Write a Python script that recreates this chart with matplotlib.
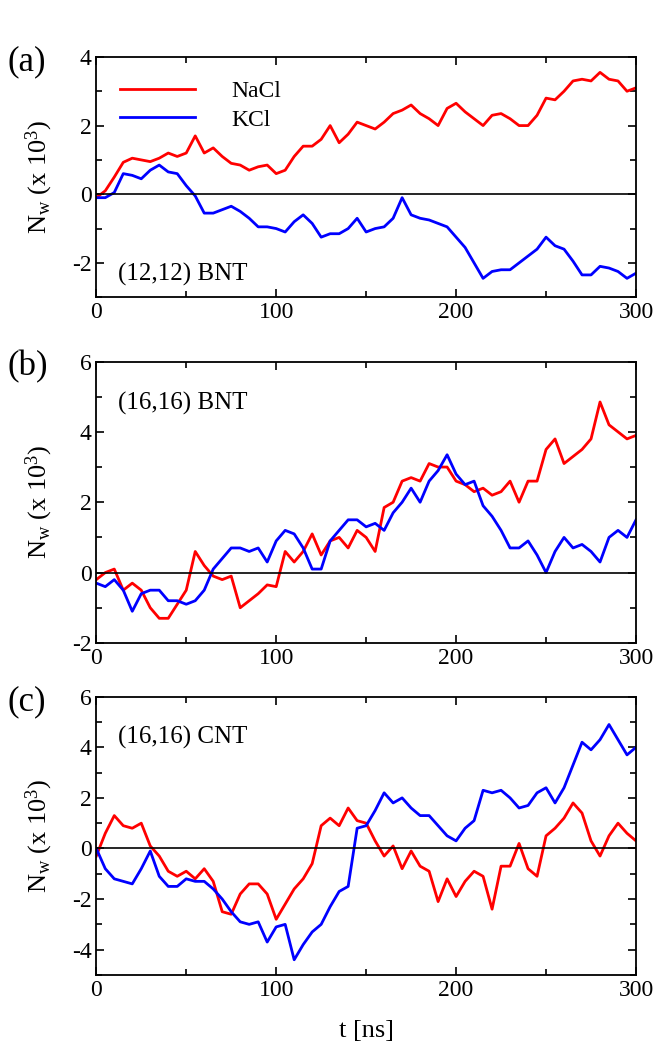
import numpy as np
import matplotlib
matplotlib.use('Agg')
import matplotlib.pyplot as plt
from matplotlib.ticker import MultipleLocator

plt.rcParams['font.family'] = ['Liberation Serif', 'DejaVu Serif']
plt.rcParams['mathtext.fontset'] = 'custom'
plt.rcParams['mathtext.rm'] = 'Liberation Serif'
plt.rcParams['mathtext.it'] = 'Liberation Serif:italic'
plt.rcParams['axes.unicode_minus'] = False

# time axis (ns), sampled every 5 ns
t = np.arange(0, 301, 5)

# (a) (12,12) BNT
nacl_a = [-0.1, 0.1, 0.5, 0.93, 1.05, 1.0, 0.95, 1.05, 1.2, 1.1, 1.2, 1.7, 1.2,
          1.35, 1.1, 0.9, 0.85, 0.7, 0.8, 0.85, 0.6, 0.7, 1.1, 1.4, 1.4, 1.6,
          2.0, 1.5, 1.75, 2.1, 2.0, 1.9, 2.1, 2.35, 2.45, 2.6, 2.35, 2.2, 2.0,
          2.5, 2.65, 2.4, 2.2, 2.0, 2.3, 2.35, 2.2, 2.0, 2.0, 2.3, 2.8, 2.75,
          3.0, 3.3, 3.35, 3.3, 3.55, 3.35, 3.3, 3.0, 3.1]
kcl_a = [-0.1, -0.1, 0.05, 0.6, 0.55, 0.45, 0.7, 0.85, 0.65, 0.6, 0.25, -0.05,
         -0.55, -0.55, -0.45, -0.35, -0.5, -0.7, -0.95, -0.95, -1.0, -1.1, -0.8,
         -0.6, -0.85, -1.25, -1.15, -1.15, -1.0, -0.7, -1.1, -1.0, -0.95, -0.7,
         -0.1, -0.6, -0.7, -0.75, -0.85, -0.95, -1.25, -1.55, -2.0, -2.45,
         -2.25, -2.2, -2.2, -2.0, -1.8, -1.6, -1.25, -1.5, -1.6, -1.95, -2.35,
         -2.35, -2.1, -2.15, -2.25, -2.45, -2.3]

# (b) (16,16) BNT
nacl_b = [-0.2, 0.0, 0.1, -0.5, -0.3, -0.5, -1.0, -1.3, -1.3, -0.9, -0.5, 0.6,
          0.2, -0.1, -0.2, -0.1, -1.0, -0.8, -0.6, -0.35, -0.4, 0.6, 0.3, 0.6,
          1.1, 0.5, 0.9, 1.0, 0.7, 1.2, 1.0, 0.6, 1.85, 2.0, 2.6, 2.7, 2.6,
          3.1, 3.0, 3.0, 2.6, 2.5, 2.3, 2.4, 2.2, 2.3, 2.6, 2.0, 2.6, 2.6, 3.5,
          3.8, 3.1, 3.3, 3.5, 3.8, 4.85, 4.2, 4.0, 3.8, 3.9]
kcl_b = [-0.3, -0.4, -0.2, -0.5, -1.1, -0.6, -0.5, -0.5, -0.8, -0.8, -0.9,
         -0.8, -0.5, 0.1, 0.4, 0.7, 0.7, 0.6, 0.7, 0.3, 0.9, 1.2, 1.1, 0.7,
         0.1, 0.1, 0.9, 1.2, 1.5, 1.5, 1.3, 1.4, 1.2, 1.7, 2.0, 2.4, 2.0, 2.6,
         2.9, 3.35, 2.8, 2.5, 2.6, 1.9, 1.6, 1.2, 0.7, 0.7, 0.9, 0.5, 0.0, 0.6,
         1.0, 0.7, 0.8, 0.6, 0.3, 1.0, 1.2, 1.0, 1.5]

# (c) (16,16) CNT
nacl_c = [-0.3, 0.6, 1.3, 0.9, 0.8, 1.0, 0.1, -0.3, -0.9, -1.1, -0.9, -1.2,
          -0.8, -1.3, -2.5, -2.6, -1.8, -1.4, -1.4, -1.8, -2.8, -2.2, -1.6,
          -1.2, -0.6, 0.9, 1.2, 0.9, 1.6, 1.1, 1.0, 0.3, -0.3, 0.1, -0.8, -0.1,
          -0.7, -0.9, -2.1, -1.2, -1.9, -1.3, -0.9, -1.1, -2.4, -0.7, -0.7, 0.2,
          -0.8, -1.1, 0.5, 0.8, 1.2, 1.8, 1.4, 0.3, -0.3, 0.5, 1.0, 0.6, 0.3]
kcl_c = [0.0, -0.8, -1.2, -1.3, -1.4, -0.8, -0.1, -1.1, -1.5, -1.5, -1.2, -1.3,
         -1.3, -1.6, -2.0, -2.5, -2.9, -3.0, -2.9, -3.7, -3.1, -3.0, -4.4,
         -3.8, -3.3, -3.0, -2.3, -1.7, -1.5, 0.8, 0.9, 1.5, 2.2, 1.8, 2.0, 1.6,
         1.3, 1.3, 0.9, 0.5, 0.3, 0.8, 1.1, 2.3, 2.2, 2.3, 2.0, 1.6, 1.7, 2.2,
         2.4, 1.8, 2.4, 3.3, 4.2, 3.9, 4.3, 4.9, 4.3, 3.7, 4.0]

panels = [
    ('(a)', nacl_a, kcl_a, (-3, 4), '(12,12) BNT', 'low'),
    ('(b)', nacl_b, kcl_b, (-2, 6), '(16,16) BNT', 'high'),
    ('(c)', nacl_c, kcl_c, (-5, 6), '(16,16) CNT', 'high'),
]
boxes = [(0.147, 0.718, 0.824, 0.228),
         (0.147, 0.390, 0.824, 0.267),
         (0.147, 0.075, 0.824, 0.264)]

fig = plt.figure(figsize=(6.55, 10.54), dpi=100)

for (tag, na, k, ylim, name, pos), box in zip(panels, boxes):
    ax = fig.add_axes(box)
    ax.plot(t, na, color='red', lw=2.0, label='NaCl')
    ax.plot(t, k, color='blue', lw=2.0, label='KCl')
    ax.axhline(0, color='black', lw=1.2)
    ax.set_xlim(0, 300)
    ax.set_ylim(*ylim)
    ax.xaxis.set_major_locator(MultipleLocator(100))
    ax.xaxis.set_minor_locator(MultipleLocator(50))
    ax.yaxis.set_major_locator(MultipleLocator(2))
    ax.yaxis.set_minor_locator(MultipleLocator(1))
    ax.tick_params(which='both', direction='in', top=True, right=True,
                   labelsize=17, width=1.2)
    ax.tick_params(which='major', length=6)
    ax.tick_params(which='minor', length=4)
    for s in ax.spines.values():
        s.set_linewidth(1.3)
    ax.set_ylabel(r'N$_\mathrm{w}$ (x 10$^3$)', fontsize=19, labelpad=12)
    if pos == 'low':
        ax.text(0.04, 0.07, name, transform=ax.transAxes, fontsize=18)
    else:
        ax.text(0.04, 0.83, name, transform=ax.transAxes, fontsize=18)
    if tag == '(a)':
        ax.legend(loc='upper left', frameon=False, fontsize=17,
                  handlelength=3.2, handletextpad=1.5, borderaxespad=0.6,
                  labelspacing=0.3)
    if tag == '(c)':
        ax.set_xlabel('t [ns]', fontsize=19, labelpad=14)
    fig.text(0.012, box[1] + box[3] - 0.005, tag, fontsize=25, va='center')

fig.savefig('out.png', dpi=100)
